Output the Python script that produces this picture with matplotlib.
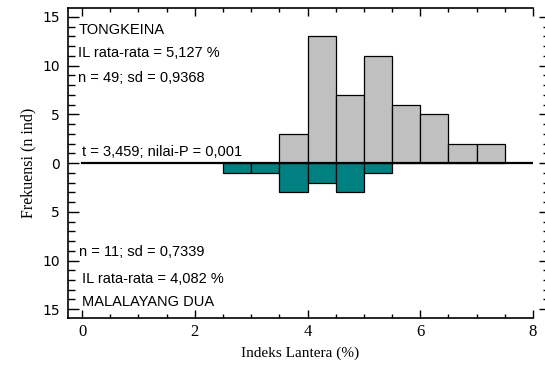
import matplotlib
matplotlib.use("Agg")
import matplotlib.pyplot as plt
from matplotlib.ticker import MultipleLocator, FuncFormatter

# histogram bins (left edge of each 0.5 wide class)
bin_width = 0.5
tong_edges = [3.5, 4.0, 4.5, 5.0, 5.5, 6.0, 6.5, 7.0]
tong_counts = [3, 13, 7, 11, 6, 5, 2, 2]
mala_edges = [2.5, 3.0, 3.5, 4.0, 4.5, 5.0]
mala_counts = [1, 1, 3, 2, 3, 1]

x_ticks = [0, 2, 4, 6, 8]
y_ticks = [-15, -10, -5, 0, 5, 10, 15]

serif = "Liberation Serif"
sans = ["Liberation Sans", "DejaVu Sans"]

fig = plt.figure(figsize=(5.45, 3.67), dpi=100)
ax = fig.add_axes([0.1248, 0.1335, 0.978 - 0.1248, 0.978 - 0.1335])

# upper histogram (Tongkeina) and mirrored lower one (Malalayang Dua)
ax.bar(tong_edges, tong_counts, width=bin_width, align="edge",
       color="#c0c0c0", edgecolor="black", linewidth=0.9, zorder=2)
ax.bar(mala_edges, [-c for c in mala_counts], width=bin_width, align="edge",
       color="#008080", edgecolor="black", linewidth=0.9, zorder=2)
ax.plot([0, 8], [0, 0], color="black", linewidth=1.6, zorder=3)

ax.set_xlim(-0.25, 8)
ax.set_ylim(-15.9, 15.9)

ax.xaxis.set_major_locator(MultipleLocator(2))
ax.xaxis.set_minor_locator(MultipleLocator(0.5))
ax.yaxis.set_major_locator(MultipleLocator(5))
ax.yaxis.set_minor_locator(MultipleLocator(1))
ax.set_xticks(x_ticks)
ax.set_yticks(y_ticks)
ax.yaxis.set_major_formatter(FuncFormatter(lambda v, p: "%d" % abs(v)))

ax.tick_params(axis="both", which="both", direction="in", top=True, right=True, width=1.0)
ax.tick_params(axis="y", which="major", length=8, pad=6)
ax.tick_params(axis="y", which="minor", length=5)
ax.tick_params(axis="x", which="major", length=6, pad=4)
ax.tick_params(axis="x", which="minor", length=3)

for lab in ax.get_xticklabels() + ax.get_yticklabels():
    lab.set_fontfamily(serif)
    lab.set_fontsize(12)

for s in ["left", "top", "bottom"]:
    ax.spines[s].set_linewidth(1.2)
# right axis sits just past the plot edge; only its ticks show
ax.spines["right"].set_position(("outward", 12))
ax.spines["right"].set_color("none")

ax.set_xlabel("Indeks Lantera (%)", fontfamily=serif, fontsize=11, labelpad=5)
ax.set_ylabel("Frekuensi (n ind)", fontfamily=serif, fontsize=11.5, labelpad=4)

txt = dict(fontfamily=sans, fontsize=10.5, va="center", ha="left", color="black")
ax.text(-0.07, 13.7, "TONGKEINA", **txt)
ax.text(-0.07, 11.3, "IL rata-rata = 5,127 %", **txt)
ax.text(-0.07, 8.7, "n = 49; sd = 0,9368", **txt)
ax.text(0.0, 1.1, "t = 3,459; nilai-P = 0,001", **txt)
ax.text(-0.05, -9.15, "n = 11; sd = 0,7339", **txt)
ax.text(0.0, -11.9, "IL rata-rata = 4,082 %", **txt)
ax.text(0.0, -14.3, "MALALAYANG DUA", **txt)

fig.savefig("out.png", dpi=100)
